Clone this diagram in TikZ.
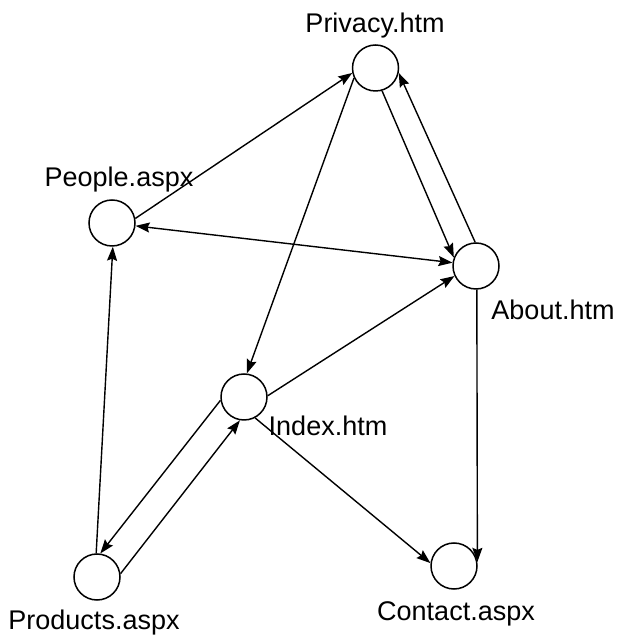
\documentclass[tikz,border=0pt]{standalone}
\usepackage{fontspec}
\setmainfont{Liberation Sans}
\usepackage{tikz}
\usetikzlibrary{arrows.meta}

\begin{document}
\begin{tikzpicture}[
  x=1pt, y=1pt,
  page/.style={circle, draw, line width=1.5pt, minimum size=46pt, inner sep=0pt},
  pagename/.style={font=\fontsize{27}{30}\selectfont, anchor=base, inner sep=0pt},
  lien/.style={line width=1.4pt, -{Stealth[length=14pt, width=10pt, inset=2pt]}},
  lienbi/.style={line width=1.4pt, {Stealth[length=14pt, width=10pt, inset=2pt]}-{Stealth[length=14pt, width=10pt, inset=2pt]}},
]
\useasboundingbox (0,0) rectangle (617,636);

% Pages
\node[page] (priv) at (375.5, 568) {};
\node[page] (people) at (112, 413) {};
\node[page] (about) at (476, 370) {};
\node[page] (index) at (244, 239) {};
\node[page] (prod) at (97, 59) {};
\node[page] (contact) at (454, 70) {};

% Noms des pages
\node[pagename] (privname) at (375, 603) {Privacy.htm};
\node[pagename] (peoplename) at (119, 449) {People.aspx};
\node[pagename] (aboutname) at (553, 316) {About.htm};
\node[pagename] (indexname) at (328, 200) {Index.htm};
\node[pagename] (prodname) at (94, 6) {Products.aspx};
\node[pagename] (contactname) at (456, 16) {Contact.aspx};

% Liens
\draw[lien] (people.11) -- (priv.192);
\draw[lienbi] (people.-7) -- (about.172);
\draw[lien] (priv.205) -- (index.83);
\draw[lien] (priv.-74) -- (about.159);
\draw[lien] (about.92) -- (priv.-12);
\draw[lien] (about.-88) -- (contact.10);
\draw[lien] (index.3) -- (about.205);
\draw[lien] (index.-62) -- (contact.173);
\draw[lien] (prod.8) -- (index.-100);
\draw[lien] (index.188) -- (prod.82);
\draw[lien] (prod.92) -- (people.-88);

\end{tikzpicture}
\end{document}
